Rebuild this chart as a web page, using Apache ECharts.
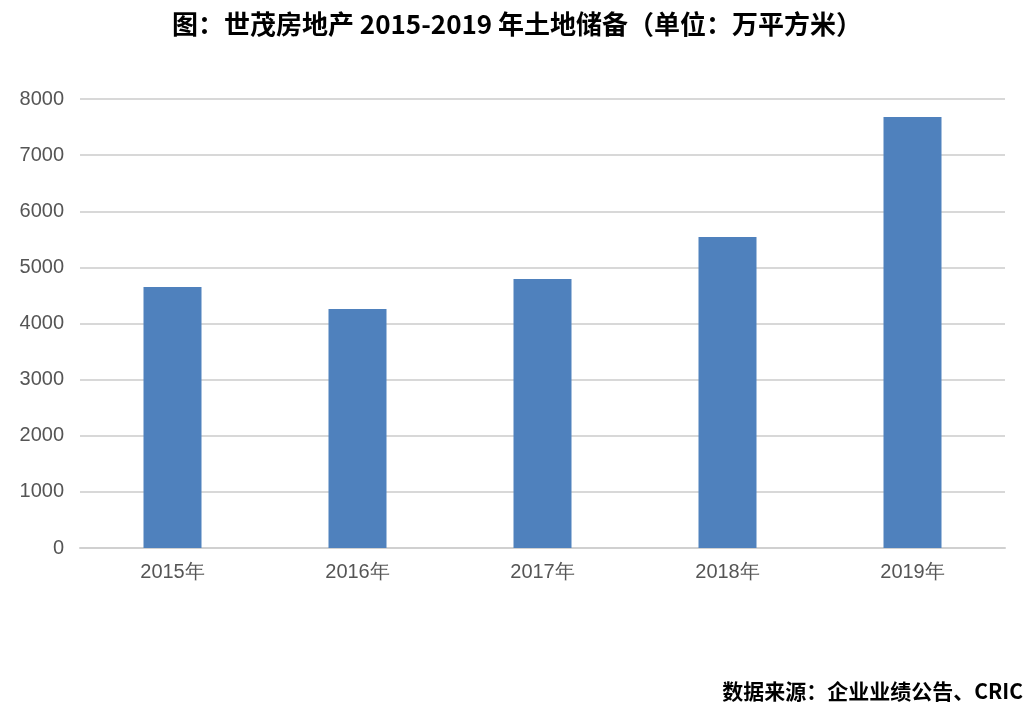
<!DOCTYPE html>
<html><head><meta charset="utf-8">
<script src="https://cdn.jsdelivr.net/npm/echarts@6/dist/echarts.min.js"></script>
<style>html,body{margin:0;padding:0;background:#fff}#c{width:1034px;height:720px}</style>
</head><body><div id="c"></div>
<script>
const categories = ['2015年','2016年','2017年','2018年','2019年'];
const values = [4650, 4260, 4795, 5540, 7680];
const chart = echarts.init(document.getElementById('c'));
chart.setOption({
  animation:false,
  title:[{text:'图：世茂房地产 2015-2019 年土地储备（单位：万平方米）',left:'center',top:6,
    textStyle:{fontSize:26,fontWeight:'bold',color:'#000',fontFamily:'Noto Sans CJK SC'}},
    {text:'数据来源：企业业绩公告、CRIC',right:6,top:676,
    textStyle:{fontSize:21,fontWeight:'bold',color:'#000',fontFamily:'Noto Sans CJK SC'}}],
  grid:{left:80,right:29,top:99,bottom:172},
  xAxis:{type:'category',data:categories,
    axisLine:{lineStyle:{color:'#d0d0d0',width:2}},axisTick:{show:false},
    axisLabel:{fontSize:20,color:'#555',margin:14,fontFamily:'Liberation Sans'}},
  yAxis:{type:'value',min:0,max:8000,interval:1000,
    axisLine:{show:false},axisTick:{show:false},
    splitLine:{lineStyle:{color:'#d8d8d8',width:2}},
    axisLabel:{fontSize:20,color:'#555',margin:16,fontFamily:'Liberation Sans',formatter:v=>String(v)}},
  series:[{type:'bar',data:values,barWidth:58,itemStyle:{color:'#4f81bd'}}]
});
</script></body></html>
